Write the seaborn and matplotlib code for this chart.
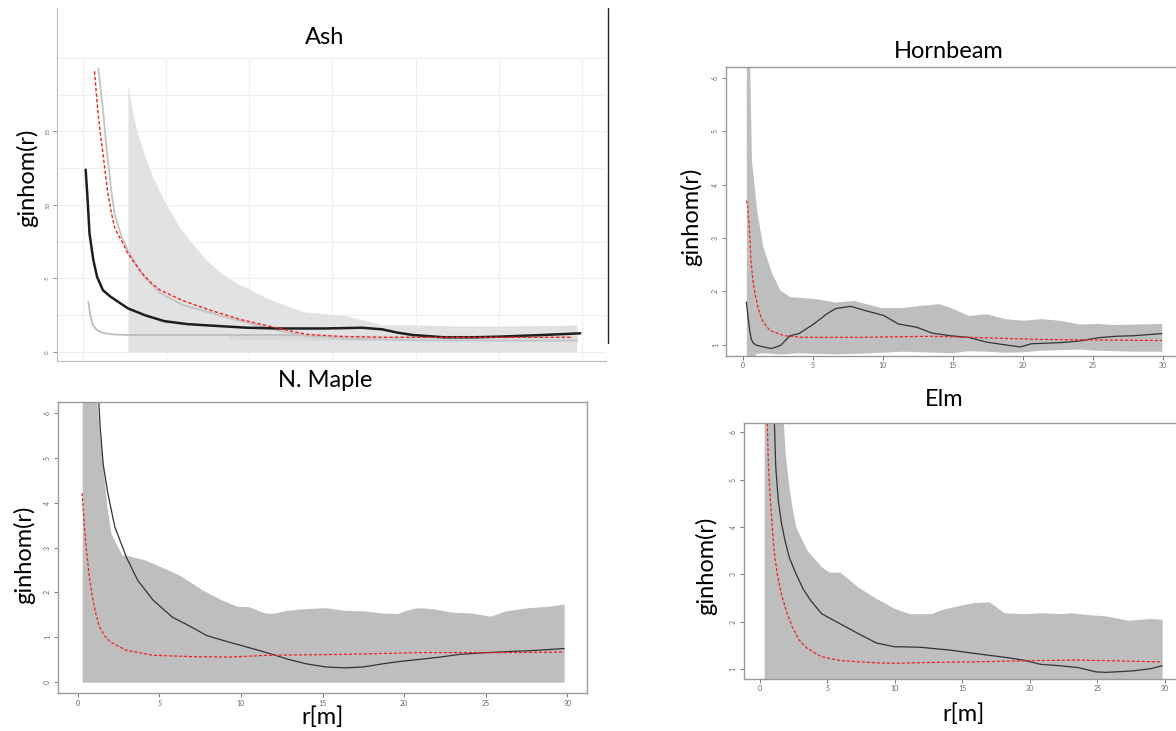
import numpy as np
import pandas as pd
import matplotlib
matplotlib.use("Agg")
import matplotlib.pyplot as plt
import seaborn as sns
from matplotlib.lines import Line2D

# ---------------- data ----------------
# Ash
ash_env_r  = [2.7, 2.92, 3.27, 3.73, 4.19, 4.88, 5.8, 6.49, 7.4, 8.33, 9.25, 11.1, 13.2, 15.7, 16.8, 18.0, 20.3, 22.6, 24.9, 27.5, 29.7]
ash_env_hi = [18.2, 16.7, 14.9, 13.3, 11.9, 10.3, 8.5, 7.5, 6.26, 5.35, 4.67, 3.65, 2.74, 2.5, 2.2, 1.84, 1.84, 1.77, 1.77, 1.8, 1.84]
ash_band_r  = [8.8, 12.0, 16.0, 20.0, 25.0, 29.7]
ash_band_lo = [0.9, 0.82, 0.78, 0.77, 0.77, 0.77]
ash_band_hi = [1.16, 1.16, 1.16, 1.16, 1.16, 1.16]
ash_red_r = [0.69, 0.8, 0.9, 1.05, 1.2, 1.35, 1.5, 1.7, 1.9, 2.1, 2.35, 2.7, 3.2, 3.6, 4.1, 4.65, 6.0, 7.6, 9.5, 11.8, 13.4, 15.5, 18.0, 21.0, 24.9, 29.4]
ash_red_v = [19.1, 17.6, 16.3, 14.8, 13.5, 12.1, 10.8, 9.5, 8.5, 8.0, 7.5, 6.7, 5.9, 5.3, 4.7, 4.2, 3.5, 2.86, 2.2, 1.6, 1.2, 1.06, 1.0, 1.0, 1.0, 1.0]
ash_theo_r = [0.92, 1.05, 1.2, 1.35, 1.5, 1.7, 1.9, 2.3, 2.7, 3.6, 4.65, 6.0, 8.8, 11.8, 13.4, 16.0, 20.0, 25.0, 29.7]
ash_theo_v = [19.3, 18.0, 16.5, 14.6, 13.0, 11.0, 9.4, 7.9, 6.9, 5.2, 4.0, 3.2, 2.3, 1.45, 1.1, 0.9, 0.8, 0.77, 0.77]
ash_obs_r = [0.16, 0.28, 0.39, 0.62, 0.85, 1.2, 1.66, 2.7, 3.73, 4.88, 6.26, 7.64, 9.9, 11.8, 14.5, 16.8, 18.0, 18.9, 19.8, 21.7, 23.5, 24.9, 27.5, 29.9]
ash_obs_v = [12.4, 10.3, 8.07, 6.26, 5.1, 4.2, 3.76, 2.97, 2.5, 2.1, 1.9, 1.8, 1.65, 1.6, 1.6, 1.65, 1.54, 1.32, 1.16, 1.0, 1.0, 1.04, 1.15, 1.27]
ash_low_r = [0.32, 0.4, 0.5, 0.6, 0.75, 0.9, 1.2, 1.8, 2.6, 6.0, 10.0, 13.0]
ash_low_v = [3.4, 2.8, 2.2, 1.84, 1.6, 1.45, 1.3, 1.2, 1.16, 1.16, 1.16, 1.16]

# Hornbeam
hb_env_r  = [0.25, 0.5, 0.62, 0.98, 1.43, 2.05, 2.64, 3.36, 4.0, 5.3, 6.6, 7.95, 9.8, 11.4, 12.7, 14.0, 14.8, 16.1, 17.4, 18.7, 20.0, 21.3, 22.6, 24.0, 25.3, 26.6, 27.9, 29.9]
hb_env_hi = [9.0, 6.1, 4.46, 3.53, 2.84, 2.35, 2.03, 1.9, 1.89, 1.86, 1.8, 1.83, 1.7, 1.7, 1.74, 1.77, 1.7, 1.55, 1.58, 1.49, 1.46, 1.49, 1.46, 1.39, 1.4, 1.38, 1.39, 1.4]
hb_env_lo = [0.7, 0.7, 0.75, 0.84, 0.85, 0.84, 0.83, 0.84, 0.85, 0.84, 0.83, 0.84, 0.86, 0.88, 0.87, 0.86, 0.85, 0.89, 0.88, 0.86, 0.87, 0.9, 0.91, 0.92, 0.9, 0.89, 0.88, 0.88]
hb_obs_r = [0.25, 0.32, 0.4, 0.5, 0.6, 0.75, 1.0, 1.5, 2.05, 2.7, 3.36, 4.0, 5.07, 6.0, 6.64, 7.7, 8.74, 10.05, 11.1, 12.4, 13.5, 14.8, 16.1, 17.4, 18.7, 19.8, 20.6, 22.6, 24.0, 25.3, 26.6, 27.9, 29.9]
hb_obs_v = [1.8, 1.65, 1.46, 1.25, 1.11, 1.03, 0.99, 0.96, 0.93, 0.99, 1.17, 1.21, 1.39, 1.58, 1.68, 1.72, 1.64, 1.55, 1.39, 1.33, 1.22, 1.17, 1.14, 1.05, 1.0, 0.96, 1.02, 1.04, 1.07, 1.13, 1.16, 1.17, 1.21]
hb_theo_r = [0.25, 0.34, 0.47, 0.6, 0.72, 0.87, 1.1, 1.39, 1.92, 2.97, 4.3, 8.2, 13.5, 16.1, 21.3, 29.9]
hb_theo_v = [3.7, 3.64, 3.14, 2.52, 2.2, 1.96, 1.68, 1.46, 1.27, 1.17, 1.14, 1.14, 1.16, 1.14, 1.1, 1.08]

# N. Maple
nm_env_r  = [0.28, 1.1, 1.35, 1.57, 1.8, 2.04, 2.4, 2.74, 2.98, 4.15, 5.1, 6.26, 7.67, 8.84, 9.78, 10.5, 11.4, 11.9, 12.8, 14.0, 15.2, 16.35, 17.5, 18.7, 19.6, 20.1, 20.8, 21.7, 22.9, 24.1, 25.3, 26.2, 27.6, 28.8, 29.8]
nm_env_hi = [9.0, 6.6, 5.5, 4.73, 3.9, 3.32, 3.05, 2.83, 2.83, 2.72, 2.57, 2.38, 2.05, 1.83, 1.69, 1.68, 1.55, 1.53, 1.6, 1.64, 1.66, 1.6, 1.59, 1.54, 1.53, 1.6, 1.66, 1.64, 1.56, 1.54, 1.47, 1.59, 1.66, 1.69, 1.74]
nm_obs_r = [1.29, 1.38, 1.57, 1.85, 2.28, 2.98, 3.68, 4.62, 5.8, 6.97, 7.9, 9.3, 10.5, 11.66, 12.8, 14.0, 15.2, 16.35, 17.5, 18.7, 19.9, 21.0, 22.2, 23.4, 24.6, 25.7, 26.9, 28.1, 29.8]
nm_obs_v = [6.3, 5.7, 4.85, 4.21, 3.46, 2.79, 2.27, 1.83, 1.45, 1.23, 1.04, 0.89, 0.77, 0.65, 0.52, 0.41, 0.34, 0.32, 0.34, 0.41, 0.47, 0.51, 0.56, 0.62, 0.65, 0.67, 0.69, 0.71, 0.75]
nm_theo_r = [0.28, 0.4, 0.52, 0.7, 0.87, 1.1, 1.34, 1.65, 2.04, 2.98, 4.62, 6.97, 9.3, 11.66, 16.35, 21.0, 25.7, 29.8]
nm_theo_v = [4.21, 3.55, 3.02, 2.4, 1.97, 1.55, 1.23, 1.03, 0.89, 0.71, 0.6, 0.57, 0.56, 0.6, 0.62, 0.66, 0.66, 0.67]

# Elm
elm_env_r  = [0.33, 1.73, 1.9, 2.14, 2.4, 2.68, 3.5, 4.58, 5.12, 5.93, 7.29, 8.64, 10.0, 11.1, 12.7, 13.5, 14.9, 15.7, 17.0, 18.1, 19.5, 20.8, 22.2, 23.0, 24.4, 25.7, 27.3, 29.0, 29.8]
elm_env_hi = [9.0, 6.3, 5.5, 4.91, 4.4, 4.0, 3.51, 3.16, 3.05, 3.05, 2.73, 2.49, 2.28, 2.17, 2.17, 2.26, 2.35, 2.4, 2.42, 2.19, 2.17, 2.19, 2.17, 2.19, 2.15, 2.12, 2.03, 2.07, 2.05]
elm_obs_r = [1.08, 1.19, 1.38, 1.6, 1.87, 2.2, 2.68, 3.2, 3.77, 4.58, 5.93, 7.29, 8.64, 10.0, 10.5, 11.9, 14.1, 15.4, 17.0, 18.1, 19.5, 20.8, 22.2, 23.6, 24.9, 25.7, 27.6, 29.0, 29.8]
elm_obs_v = [6.3, 5.26, 4.56, 4.1, 3.72, 3.35, 3.02, 2.7, 2.45, 2.17, 1.96, 1.75, 1.55, 1.47, 1.47, 1.46, 1.4, 1.35, 1.29, 1.25, 1.19, 1.1, 1.07, 1.03, 0.94, 0.93, 0.96, 1.01, 1.07]
elm_theo_r = [0.55, 0.65, 0.79, 1.06, 1.3, 1.6, 2.0, 2.41, 2.9, 3.5, 4.58, 5.93, 8.64, 10.0, 12.7, 15.4, 20.8, 23.6, 29.8]
elm_theo_v = [6.3, 5.26, 4.56, 3.51, 3.0, 2.59, 2.2, 1.89, 1.62, 1.44, 1.26, 1.18, 1.13, 1.12, 1.14, 1.15, 1.18, 1.19, 1.15]

titles = ["Ash", "Hornbeam", "N. Maple", "Elm"]
ylab = "ginhom(r)"
xlab = "r[m]"

# ---------------- figure ----------------
sns.set_theme(style="white")
plt.rcParams['font.family'] = ['Lato', 'DejaVu Sans']
plt.rcParams['text.color'] = 'black'
W, H = 1176, 731
fig = plt.figure(figsize=(W / 100, H / 100), dpi=100)
fig.patch.set_facecolor("white")

def rect(l, t, r, b):
    return [l / W, 1 - b / H, (r - l) / W, (b - t) / H]

def ftext(x, y, s, **kw):
    fig.text(x / W, 1 - y / H, s, ha="center", va="center", color="black", **kw)

RED = "#ee2222"
ENV = "#bebebe"
DASH = (0, (2.5, 1.5))

def r_panel(ax, xl, yl, yt):
    ax.set_xlim(*xl)
    ax.set_ylim(*yl)
    ax.set_xticks([0, 5, 10, 15, 20, 25, 30])
    ax.set_yticks(yt)
    ax.set_yticklabels([str(v) for v in yt], rotation=90, va="center")
    ax.tick_params(axis="both", which="both", direction="out", length=3, width=0.6,
                   colors="#666666", labelsize=5, pad=2, bottom=True, left=True)
    for s in ax.spines.values():
        s.set_color("#999999")
        s.set_linewidth(1.0)
    ax.set_xlabel("")
    ax.set_ylabel("")
    ax.grid(False)

# ---- Ash (ggplot-like) ----
ax = fig.add_axes(rect(57, 8, 606, 361))
x0, x1 = (57 - 83) / 16.63, (606 - 83) / 16.63
y0, y1 = (352 - 361) / 14.7, (352 - 8) / 14.7
ax.set_xlim(x0, x1)
ax.set_ylim(y0, y1)
for gy in np.arange(0, 20.01, 2.5):
    ax.axhline(gy, color="#efefef", lw=0.8, zorder=0)
for gx in range(0, 31, 5):
    ax.vlines(gx, y0, 20, color="#efefef", lw=0.8, zorder=0)
ax.fill_between(ash_env_r, 0, ash_env_hi, color="#e2e2e2", lw=0, zorder=1)
ax.fill_between(ash_band_r, ash_band_lo, ash_band_hi, color="#d8d8d8", lw=0, zorder=1)
sns.lineplot(x=ash_low_r, y=ash_low_v, ax=ax, color="#bdbdbd", lw=1.3, zorder=2)
sns.lineplot(x=ash_theo_r, y=ash_theo_v, ax=ax, color="#c4c4c4", lw=1.3, zorder=2)
sns.lineplot(x=ash_obs_r, y=ash_obs_v, ax=ax, color="#1e1e1e", lw=1.8, zorder=3)
sns.lineplot(x=ash_red_r, y=ash_red_v, ax=ax, color=RED, lw=1.0, linestyle=DASH, zorder=4)
ax.set_xticks([])
ax.set_yticks([0, 5, 10, 15])
ax.set_yticklabels(["0", "5", "10", "15"], rotation=90, va="center")
ax.tick_params(axis="y", direction="out", length=3, width=0.6, colors="#777777",
               labelsize=4.5, pad=2, left=True)
for k, s in ax.spines.items():
    if k in ("top", "right"):
        s.set_visible(False)
    else:
        s.set_color("#bbbbbb")
        s.set_linewidth(0.8)
ax.set_xlabel("")
ax.set_ylabel("")
fig.add_artist(Line2D([608 / W, 608 / W], [1 - 8 / H, 1 - 343 / H], color="#222222", lw=1.0))
ftext(325, 37, titles[0], fontsize=17)
ftext(27, 178, ylab, fontsize=17, rotation=90)

# ---- Hornbeam ----
ax = fig.add_axes(rect(726, 67, 1180, 355.5))
ax.fill_between(hb_env_r, hb_env_lo, hb_env_hi, color=ENV, lw=0)
sns.lineplot(x=hb_obs_r, y=hb_obs_v, ax=ax, color="#333333", lw=0.9)
sns.lineplot(x=hb_theo_r, y=hb_theo_v, ax=ax, color=RED, lw=0.9, linestyle=DASH)
r_panel(ax, (-1.2, 31.2), (0.8, 6.2), [1, 2, 3, 4, 5, 6])
ftext(949, 52, titles[1], fontsize=17)
ftext(691, 217, ylab, fontsize=17, rotation=90)

# ---- N. Maple ----
ax = fig.add_axes(rect(58, 402, 587, 693))
ax.fill_between(nm_env_r, 0, nm_env_hi, color=ENV, lw=0)
sns.lineplot(x=nm_obs_r, y=nm_obs_v, ax=ax, color="#333333", lw=0.9)
sns.lineplot(x=nm_theo_r, y=nm_theo_v, ax=ax, color=RED, lw=0.9, linestyle=DASH)
r_panel(ax, (-1.2, 31.2), (-0.24, 6.24), [0, 1, 2, 3, 4, 5, 6])
ftext(325, 380, titles[2], fontsize=17)
ftext(24, 555, ylab, fontsize=17, rotation=90)
ftext(322, 717, xlab, fontsize=17)

# ---- Elm ----
ax = fig.add_axes(rect(743.5, 423, 1181, 678.5))
ax.fill_between(elm_env_r, 0.7, elm_env_hi, color=ENV, lw=0)
sns.lineplot(x=elm_obs_r, y=elm_obs_v, ax=ax, color="#333333", lw=0.9)
sns.lineplot(x=elm_theo_r, y=elm_theo_v, ax=ax, color=RED, lw=0.9, linestyle=DASH)
r_panel(ax, (-1.2, 31.2), (0.8, 6.2), [1, 2, 3, 4, 5, 6])
ftext(944, 400, titles[3], fontsize=17)
ftext(706, 566, ylab, fontsize=17, rotation=90)
ftext(964, 714, xlab, fontsize=17)

fig.savefig("out.png", dpi=100, facecolor="white")
